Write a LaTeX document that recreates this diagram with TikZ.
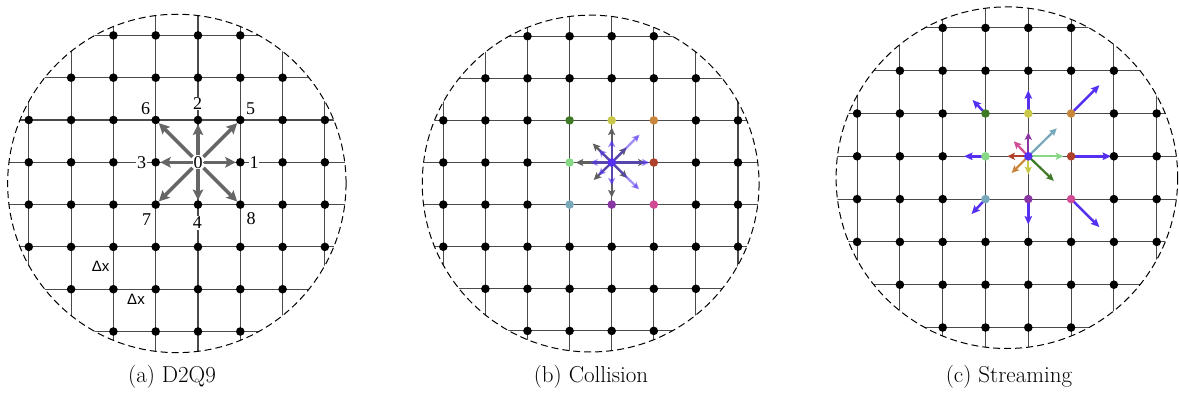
\documentclass[tikz,border=0pt]{standalone}
\usepackage{fontspec}
\newfontfamily\labfont{Liberation Serif}
\newfontfamily\dxfont{Liberation Sans}
\usetikzlibrary{arrows.meta,calc}
\pgfdeclarelayer{bg}
\pgfsetlayers{bg,main}
\definecolor{gridc}{HTML}{4A4A4A}
\definecolor{arrgray}{HTML}{666666}
\definecolor{arrgrayb}{HTML}{5F5F5F}
\definecolor{cblue}{HTML}{5530F0}
\definecolor{cdgreen}{HTML}{3E7A26}
\definecolor{cyellow}{HTML}{C9C84B}
\definecolor{corange}{HTML}{C8863C}
\definecolor{clgreen}{HTML}{86D886}
\definecolor{cred}{HTML}{AE412B}
\definecolor{clblue}{HTML}{77A9BA}
\definecolor{cpurple}{HTML}{8A36A3}
\definecolor{cpink}{HTML}{D04B94}

% #1 prefix, #2 cx, #3 cy, #4 spacing, #5 radius, #6 skip centre block (1/0)
\newcommand\lbmpanel[6]{%
  \begin{pgfonlayer}{bg}
    \begin{scope}
      \clip (#2,#3) circle[radius=#5];
      \foreach \k in {0,...,7}{
        \draw[gridline] ({#2+(\k-3.5)*#4},{#3-#5}) -- ({#2+(\k-3.5)*#4},{#3+#5});
        \draw[gridline] ({#2-#5},{#3+(\k-3.5)*#4}) -- ({#2+#5},{#3+(\k-3.5)*#4});
      }
    \end{scope}
  \end{pgfonlayer}
  \draw[rim] (#2,#3) circle[radius=#5];
  \foreach \i in {0,...,7}{\foreach \j in {0,...,7}{
    \pgfmathtruncatemacro\dd{(2*\i-7)^2+(2*\j-7)^2}
    \pgfmathtruncatemacro\inblock{(\i>2)*(\i<6)*(\j>1)*(\j<5)*#6}
    \ifnum\dd<64 \ifnum\inblock=0
      \node[dot] (#1\i\j) at ({#2+(\i-3.5)*#4},{#3+(\j-3.5)*#4}) {};
    \fi\fi
  }}
}

\begin{document}
\begin{tikzpicture}[x=1pt,y=-1pt,
  dot/.style={circle,fill=black,inner sep=0pt,minimum size=8.6pt},
  cdot/.style={circle,fill=#1,inner sep=0pt,minimum size=8.6pt},
  gridline/.style={draw=gridc,line width=1.1pt},
  rim/.style={draw=black,line width=1pt,dash pattern=on 7pt off 4pt},
  arrA/.style={draw=arrgray,line width=3.5pt,-{Stealth[length=10.5pt,width=10.5pt,inset=2pt]}},
  arrG/.style={draw=arrgrayb,line width=2.2pt,-{Stealth[length=7.5pt,width=7pt,inset=1.5pt]}},
  arrP/.style={draw=cblue,opacity=0.55,line width=2.2pt,-{Stealth[length=7.5pt,width=7pt,inset=1.5pt]}},
  arrC/.style={draw=#1,line width=2.2pt,-{Stealth[length=7.5pt,width=7pt,inset=1.5pt]}},
  arrO/.style={draw=cblue,line width=2.5pt,-{Stealth[length=8.5pt,width=7.5pt,inset=1.5pt]}},
  numlab/.style={font=\labfont\fontsize{18}{18}\selectfont,inner sep=0.8pt},
  dxlab/.style={font=\dxfont\fontsize{15}{15}\selectfont,inner sep=0.5pt},
  caption/.style={font=\fontsize{23}{26}\selectfont,inner sep=0pt}
]
\useasboundingbox (0,0) rectangle (1179,398);

% ---------------- (a) D2Q9 ----------------
\lbmpanel{a}{176.85}{183.45}{42.3}{169.2}{0}
\node[numlab,fill=white] (a0) at (a43) {0};
\foreach \t in {53,42,33,44,52,32,34,54}{
  \draw[arrA] (a0) -- (a\t);
}
\node[numlab,fill=white] (l1) at (254,163) {1};
\node[numlab,fill=white] (l2) at (197.7,103.5) {2};
\node[numlab,fill=white] (l3) at (141.7,162.7) {3};
\node[numlab,fill=white] (l4) at (197.3,223) {4};
\node[numlab] (l5) at (250.7,108.3) {5};
\node[numlab] (l6) at (145.7,108.3) {6};
\node[numlab] (l7) at (146.7,219.3) {7};
\node[numlab] (l8) at (251,218.3) {8};
\node[dxlab] (dx1) at (100.7,266.7) {Δx};
\node[dxlab] (dx2) at (136,299) {Δx};
\node[caption] (capa) at (172,377) {(a) D2Q9};

% ---------------- (b) Collision ----------------
\lbmpanel{b}{590.65}{183.55}{42.1}{168.4}{1}
\foreach \i/\j/\c in {3/2/cdgreen,4/2/cyellow,5/2/corange,3/3/clgreen,5/3/cred,3/4/clblue,4/4/cpurple,5/4/cpink,4/3/cblue}{
  \node[cdot=\c] (b\i\j) at ({590.65+(\i-3.5)*42.1},{183.55+(\j-3.5)*42.1}) {};
}
\begin{pgfonlayer}{bg}
\foreach \n/\dx/\dy in {E/34/0,N/0/-35,W/-36/0,S/0/35,NE/15/-15,NW/-19/-19,SW/-18/17.5,SE/15.5/15.5}{
  \coordinate (bg\n) at ($(b43)+(\dx,\dy)$);
  \draw[arrG] (b43.center) -- (bg\n);
}
\foreach \n/\dx/\dy in {E/38/0,N/0/-23,W/-21.5/0,S/0/23,NE/28/-28,NW/-13/-13,SW/-13.5/13,SE/27.5/27}{
  \coordinate (bp\n) at ($(b43)+(\dx,\dy)$);
  \draw[arrP] (b43.center) -- (bp\n);
}
\end{pgfonlayer}
\node[caption] (capb) at (591,377) {(b) Collision};

% ---------------- (c) Streaming ----------------
\lbmpanel{c}{1006.9}{177.7}{42.8}{170.8}{1}
\foreach \i/\j/\c in {3/2/cdgreen,4/2/cyellow,5/2/corange,3/3/clgreen,5/3/cred,3/4/clblue,4/4/cpurple,5/4/cpink,4/3/cblue}{
  \node[cdot=\c] (c\i\j) at ({1006.9+(\i-3.5)*42.8},{177.7+(\j-3.5)*42.8}) {};
}
\begin{pgfonlayer}{bg}
\foreach \n/\dx/\dy/\c in {N/0/-24/cpurple,NW/-14.5/-15/cpink,NE/28.5/-28/clblue,E/35/0/clgreen,SE/25.5/24.5/cdgreen,S/0/18/cyellow,SW/-16.7/16.7/corange,W/-21/0/cred}{
  \coordinate (cc\n) at ($(c43)+(\dx,\dy)$);
  \draw[arrC=\c] (c43.center) -- (cc\n);
}
\foreach \s/\n/\dx/\dy in {32/NW/-13/-13.5,42/N/0/-23.3,52/NE/28.3/-28.3,33/W/-21.5/0,53/E/40/0,34/SW/-14/15,44/S/0/25.5,54/SE/28.3/28}{
  \coordinate (co\n) at ($(c\s)+(\dx,\dy)$);
  \draw[arrO] (c\s.center) -- (co\n);
}
\end{pgfonlayer}
\node[caption] (capc) at (1009,377) {(c) Streaming};
\end{tikzpicture}
\end{document}
